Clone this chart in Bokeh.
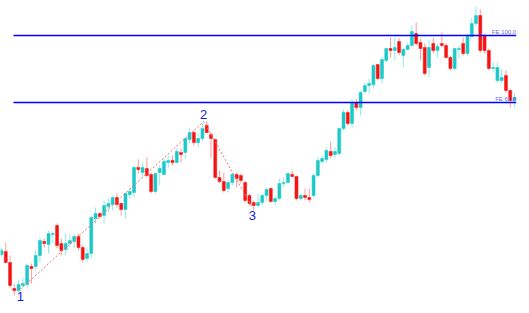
from bokeh.plotting import figure
from bokeh.models import Range1d, ColumnDataSource
from bokeh.core.properties import value
from bokeh.embed import file_html
from bokeh.resources import INLINE

# OHLC prices (arbitrary units)
opens = [59, 62, 51, 25, 23, 28, 29, 47, 47, 58, 72, 69, 79, 88, 70, 64, 70, 72, 77, 66,
         55, 60, 95, 100, 98, 107, 109, 116, 110, 104, 119, 121, 146, 141, 145, 139, 122, 141, 139, 151,
         153, 151, 161, 161, 174, 181, 171, 175, 188, 179, 174, 136, 132, 125, 131, 139, 138, 131, 118, 111,
         108, 111, 118, 125, 112, 115, 130, 131, 139, 137, 115, 118, 116, 118, 138, 152, 154, 162, 159, 160,
         185, 201, 190, 211, 206, 222, 228, 229, 249, 235, 253, 265, 263, 272, 258, 264, 268, 280, 271, 266,
         246, 270, 263, 270, 268, 256, 245, 264, 270, 260, 277, 290, 298, 278, 263, 245, 233, 233, 238, 223,
         213]
closes = [63, 51, 28, 23, 29, 30, 48, 45, 58, 73, 70, 80, 80, 68, 63, 70, 73, 77, 66, 54,
          60, 96, 100, 97, 108, 110, 116, 109, 104, 120, 122, 146, 144, 146, 138, 122, 140, 145, 152, 153,
          151, 162, 159, 175, 181, 171, 175, 185, 181, 175, 136, 132, 123, 131, 139, 135, 133, 113, 110, 108,
          111, 118, 124, 112, 115, 130, 131, 140, 137, 115, 118, 116, 114, 138, 153, 155, 163, 158, 162, 185,
          201, 190, 211, 206, 221, 228, 230, 248, 235, 254, 265, 263, 266, 261, 264, 268, 282, 270, 265, 240,
          266, 263, 267, 268, 256, 245, 265, 265, 260, 277, 290, 298, 263, 263, 245, 246, 246, 236, 223, 213,
          216]
highs = [66, 71, 58, 30, 34, 36, 50, 50, 63, 76, 75, 83, 82, 90, 75, 80, 80, 80, 80, 68,
         66, 98, 106, 101, 113, 115, 118, 120, 111, 121, 125, 148, 154, 151, 156, 141, 141, 148, 155, 158,
         158, 165, 165, 176, 185, 183, 180, 191, 192, 181, 175, 143, 141, 133, 141, 141, 140, 133, 120, 113,
         120, 120, 126, 126, 118, 135, 136, 141, 143, 138, 120, 125, 125, 140, 156, 158, 166, 172, 166, 186,
         204, 203, 215, 215, 223, 231, 235, 250, 250, 256, 266, 276, 276, 275, 266, 271, 288, 291, 275, 270,
         273, 276, 270, 281, 270, 258, 266, 268, 276, 280, 296, 307, 304, 280, 265, 251, 251, 245, 243, 225,
         220]
lows = [57, 50, 26, 18, 21, 26, 26, 30, 43, 51, 66, 60, 70, 65, 58, 58, 66, 65, 63, 51,
        51, 55, 90, 95, 90, 101, 103, 106, 98, 95, 115, 116, 140, 136, 136, 120, 120, 128, 138, 145,
        148, 150, 151, 155, 170, 168, 166, 173, 180, 156, 135, 130, 121, 121, 128, 126, 130, 111, 108, 103,
        106, 108, 113, 111, 108, 113, 126, 130, 136, 113, 113, 113, 111, 116, 136, 150, 151, 155, 155, 158,
        183, 188, 186, 203, 198, 220, 220, 225, 233, 230, 251, 256, 253, 258, 246, 263, 266, 268, 253, 238,
        236, 260, 256, 266, 255, 243, 243, 255, 258, 258, 275, 288, 261, 260, 243, 241, 231, 230, 221, 206,
        206]

# Fibonacci expansion levels
fe_labels = ["FE 100.0", "FE 61.8"]
fe_levels = [278, 211]

# Wave points 1-2-3
wave_labels = ["1", "2", "3"]
wave_idx = [4.4, 47.3, 58.7]
wave_price = [24, 192, 106]

W, H = 529, 313
step = 4.275
x0 = -1 / step

p = figure(width=W, height=H, output_backend="svg", toolbar_location=None,
           x_range=Range1d(x0, x0 + W / step), y_range=Range1d(0, H),
           min_border=0, min_border_left=0, min_border_right=0,
           min_border_top=0, min_border_bottom=0)
p.axis.visible = False
p.grid.visible = False
p.outline_line_color = None
p.background_fill_color = "white"

n = len(opens)
idx = list(range(n))
up = [c >= o for o, c in zip(opens, closes)]
body_col = ["#1cc8c8" if u else "#f41414" for u in up]
wick_col = ["#8cecec" if u else "#ff9a9a" for u in up]
src = ColumnDataSource(dict(x=idx, o=opens, c=closes, h=highs, l=lows,
                            top=[max(o, c) for o, c in zip(opens, closes)],
                            bot=[min(o, c) for o, c in zip(opens, closes)],
                            bc=body_col, wc=wick_col))

p.segment(x0="x", y0="l", x1="x", y1="h", line_color="wc", line_width=1, source=src)
p.vbar(x="x", width=0.7, top="top", bottom="bot", fill_color="bc", line_color="bc",
       line_width=0.5, source=src)

# wave dotted lines
p.line(wave_idx, wave_price, line_color="#ff6a6a", line_dash="2 2", line_width=1)

# Fib lines
line_start = 2.8
line_end = 120.4
for lvl, lab in zip(fe_levels, fe_labels):
    p.segment(x0=[line_start], y0=[lvl], x1=[line_end], y1=[lvl], line_color="#0000ff", line_width=1.6)
    p.text(x=[line_end], y=[lvl + 0.5], text=[lab], text_align="right", text_baseline="bottom",
           text_font_size="6px", text_color="#6a6aee", text_font=value("Liberation Sans"))

# wave labels
offs = [-2, 3, -3]
bases = ["top", "bottom", "top"]
for xi, yi, lab, off, b in zip(wave_idx, wave_price, wave_labels, offs, bases):
    p.text(x=[xi], y=[yi + off], text=[lab], text_align="center", text_baseline=b,
           text_font_size="13px", text_color="#1a1ae6", text_font=value("Liberation Sans"))

open("out.html", "w").write(file_html(p, INLINE))
